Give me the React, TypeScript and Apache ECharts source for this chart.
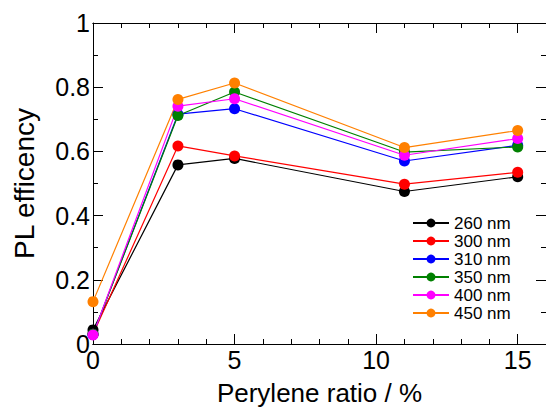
import React, { useEffect, useRef } from "react";
import * as echarts from "echarts";

const ratios = [0, 3, 5, 11, 15];
const seriesNames = ["260 nm", "300 nm", "310 nm", "350 nm", "400 nm", "450 nm"];
const s260 = [0.044, 0.558, 0.578, 0.475, 0.521];
const s300 = [0.03, 0.617, 0.586, 0.498, 0.535];
const s310 = [0.03, 0.716, 0.733, 0.570, 0.619];
const s350 = [0.03, 0.712, 0.785, 0.598, 0.614];
const s400 = [0.028, 0.741, 0.764, 0.588, 0.640];
const s450 = [0.132, 0.762, 0.813, 0.612, 0.665];
const seriesValues = [s260, s300, s310, s350, s400, s450];
const seriesColors = ["#000000", "#ff0000", "#0000ff", "#008000", "#ff00ff", "#ff8000"];

const FONT = "Liberation Sans, Arial, sans-serif";

export default function App() {
  const ref = useRef<HTMLDivElement>(null);
  useEffect(() => {
    if (!ref.current) return;
    const chart = echarts.init(ref.current, undefined, { renderer: "svg" });
    const axisLine = { show: true, onZero: false, lineStyle: { color: "#000", width: 1 } };
    const xBase = { type: "value" as const, min: 0, max: 16, splitLine: { show: false } };
    const yBase = { type: "value" as const, min: 0, max: 1, interval: 0.2, splitLine: { show: false } };
    chart.setOption({
      animation: false,
      grid: { left: 93, top: 23, right: -2, bottom: 65 },
      legend: {
        orient: "vertical",
        left: 412,
        top: 214,
        padding: 0,
        itemGap: 0,
        itemWidth: 36,
        itemHeight: 11,
        data: seriesNames,
        textStyle: { fontFamily: FONT, fontSize: 17, lineHeight: 18, color: "#000" },
      },
      xAxis: [
        {
          ...xBase,
          interval: 5,
          position: "bottom",
          axisLine,
          axisTick: { show: true, inside: true, length: 10, lineStyle: { color: "#000" } },
          axisLabel: {
            show: true,
            margin: 3,
            showMaxLabel: false,
            fontFamily: FONT,
            fontSize: 25,
            color: "#000",
          },
          name: "Perylene ratio / %",
          nameLocation: "middle",
          nameGap: 36,
          nameTextStyle: { fontFamily: FONT, fontSize: 26, color: "#000" },
        },
        {
          ...xBase,
          interval: 1,
          position: "bottom",
          axisLine,
          axisTick: { show: true, inside: true, length: 5, lineStyle: { color: "#000" } },
          axisLabel: { show: false },
        },
        {
          ...xBase,
          interval: 5,
          position: "top",
          axisLine,
          axisTick: { show: true, inside: true, length: 10, lineStyle: { color: "#000" } },
          axisLabel: { show: false },
        },
        {
          ...xBase,
          interval: 1,
          position: "top",
          axisLine,
          axisTick: { show: true, inside: true, length: 5, lineStyle: { color: "#000" } },
          axisLabel: { show: false },
        },
      ],
      yAxis: [
        {
          ...yBase,
          position: "left",
          axisLine,
          axisTick: { show: true, inside: true, length: 10, lineStyle: { color: "#000" } },
          minorTick: { show: true, splitNumber: 2, length: 5, lineStyle: { color: "#000" } },
          axisLabel: {
            show: true,
            margin: 3,
            fontFamily: FONT,
            fontSize: 25,
            color: "#000",
            formatter: (v: number) => String(Math.round(v * 10) / 10),
          },
          name: "PL efficency",
          nameLocation: "middle",
          nameGap: 55,
          nameTextStyle: { fontFamily: FONT, fontSize: 28, color: "#000" },
        },
        {
          ...yBase,
          position: "right",
          axisLine,
          axisTick: { show: true, inside: true, length: 10, lineStyle: { color: "#000" } },
          minorTick: { show: true, splitNumber: 2, length: 5, lineStyle: { color: "#000" } },
          axisLabel: { show: false },
        },
      ],
      series: seriesNames.map((name, i) => ({
        name,
        type: "line",
        xAxisIndex: 0,
        yAxisIndex: 0,
        data: ratios.map((r, j) => [r, seriesValues[i][j]]),
        symbol: "circle",
        symbolSize: 11,
        clip: false,
        color: seriesColors[i],
        lineStyle: { color: seriesColors[i], width: 1.2 },
        itemStyle: { color: seriesColors[i] },
      })),
    });
    return () => chart.dispose();
  }, []);
  return (
    <div
      ref={ref}
      style={{ position: "fixed", left: 0, top: 0, width: 546, height: 411, background: "#fff" }}
    />
  );
}
